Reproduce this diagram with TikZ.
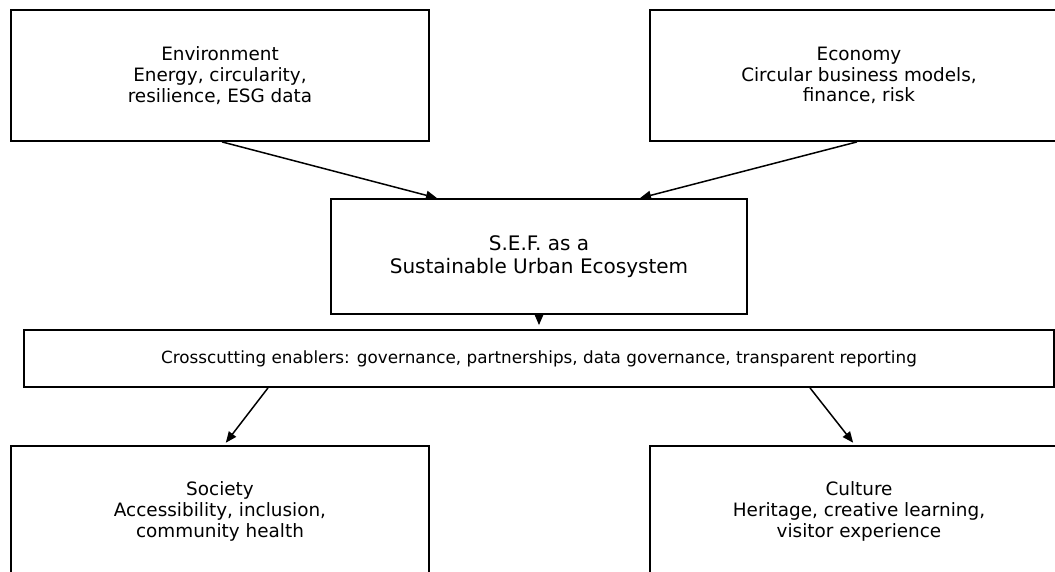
\documentclass[tikz,border=0pt]{standalone}
\usepackage{fontspec}
\setmainfont{DejaVu Sans}
\usetikzlibrary{arrows.meta}
\begin{document}
\begin{tikzpicture}[x=1pt,y=-1pt,
  box/.style={draw=black, line width=1.8pt, fill=white, align=center, inner sep=0pt},
  sidebox/.style={box, minimum width=418pt, minimum height=131pt, font=\fontsize{18.4}{20.8}\selectfont},
  arr/.style={-{Triangle[length=11pt,width=9pt]}, line width=1.5pt}
]
\useasboundingbox (0,0) rectangle (1055,571);
\clip (0,0) rectangle (1055,571);
\node[sidebox] (env) at (220,75.5) {Environment\\Energy, circularity,\\resilience, ESG data};
\node[sidebox] (eco) at (859,75.5) {Economy\\Circular business models,\\finance, risk};
\node[box, minimum width=416pt, minimum height=115pt, font=\fontsize{20}{22.6}\selectfont] (sef) at (539,256.5) {S.E.F. as a\\Sustainable Urban Ecosystem};
\node[box, minimum width=1030pt, minimum height=57pt, font=\fontsize{16.8}{19}\selectfont] (cross) at (539,358.5) {Crosscutting enablers: governance, partnerships, data governance, transparent reporting};
\node[sidebox] (soc) at (220,511.5) {Society\\Accessibility, inclusion,\\community health};
\node[sidebox] (cul) at (859,511.5) {Culture\\Heritage, creative learning,\\visitor experience};
\draw[arr] ([xshift=2pt]env.south) -- ([xshift=-102pt]sef.north);
\draw[arr] ([xshift=-2pt]eco.south) -- ([xshift=101pt]sef.north);
\draw[arr, shorten >=4pt] (sef.south) -- (cross.north);
\draw[arr, shorten >=3pt] ([xshift=-271pt]cross.south) -- ([xshift=4pt]soc.north);
\draw[arr, shorten >=3pt] ([xshift=271pt]cross.south) -- ([xshift=-4pt]cul.north);
\end{tikzpicture}
\end{document}
